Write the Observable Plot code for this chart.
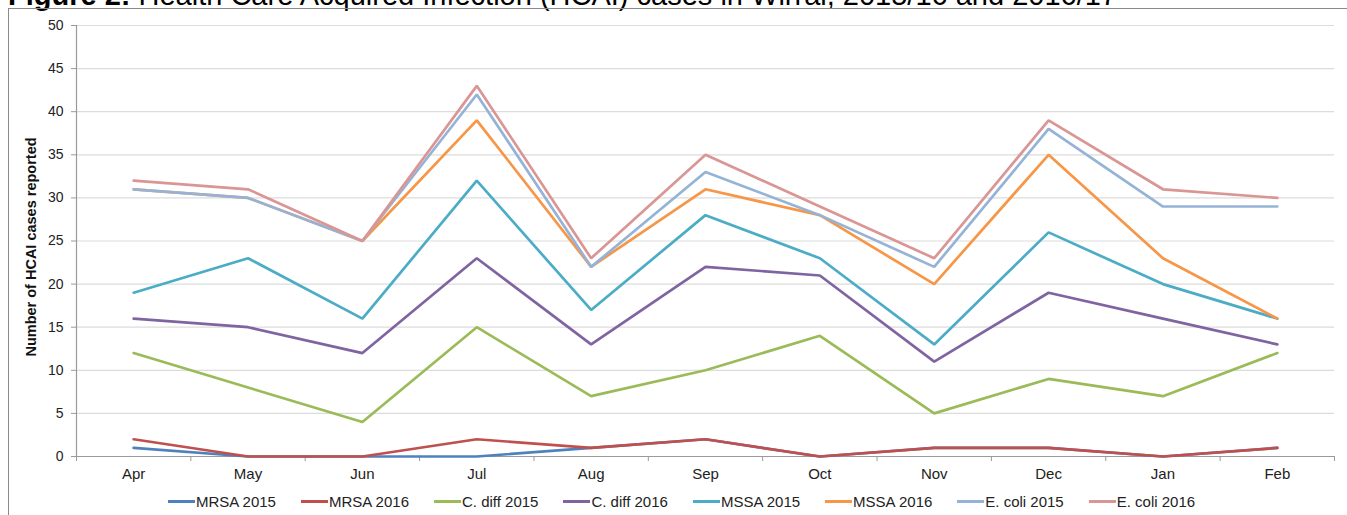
<!DOCTYPE html>
<html>
<head>
<meta charset="utf-8">
<script src="https://cdn.jsdelivr.net/npm/d3@7"></script>
<script src="https://cdn.jsdelivr.net/npm/@observablehq/plot@0.6"></script>
<style>
  html, body { margin: 0; padding: 0; background: #fff; }
  #wrap { position: relative; width: 1347px; height: 515px; overflow: hidden; background: #fff; font-family: "Liberation Sans", Arial, sans-serif; }
  #title { position: absolute; left: 8px; top: -19px; font-size: 29px; line-height: 29px; white-space: nowrap; color: #000; }
  #title b { font-weight: bold; }
  #frame { position: absolute; left: 8px; top: 8px; right: -2px; bottom: -2px; border-left: 1.5px solid #8a8a8a; border-top: 1.5px solid #8a8a8a; }
  #chart { position: absolute; left: 0; top: 0; }
  #ylabel { position: absolute; left: 31px; top: 247px; transform: translate(-50%, -50%) rotate(-90deg); font-size: 14.5px; font-weight: bold; color: #111; white-space: nowrap; }
  #legend { position: absolute; left: 0; top: 493px; width: 1347px; display: flex; justify-content: center; gap: 25px; font-size: 15px; color: #222; padding-left: 16px; box-sizing: border-box; }
  .item { display: flex; align-items: center; white-space: nowrap; }
  .sw { display: inline-block; width: 27px; height: 3px; margin-right: 1px; }
</style>
</head>
<body>
<div id="wrap">
  <div id="title"><b>Figure 2:</b> Health Care Acquired Infection (HCAI) cases in Wirral, 2015/16 and 2016/17</div>
  <div id="frame"></div>
  <div id="chart"></div>
  <div id="ylabel"></div>
  <div id="legend"></div>
</div>
<script>
const months = ["Apr", "May", "Jun", "Jul", "Aug", "Sep", "Oct", "Nov", "Dec", "Jan", "Feb"];
const seriesNames = ["MRSA 2015", "MRSA 2016", "C. diff 2015", "C. diff 2016", "MSSA 2015", "MSSA 2016", "E. coli 2015", "E. coli 2016"];
const seriesColors = ["#4F81BD", "#C0504D", "#9BBB59", "#8064A2", "#4BACC6", "#F79646", "#95B3D7", "#D99694"];
const mrsa2015  = [1, 0, 0, 0, 1, 2, 0, 1, 1, 0, 1];
const mrsa2016  = [2, 0, 0, 2, 1, 2, 0, 1, 1, 0, 1];
const cdiff2015 = [12, 8, 4, 15, 7, 10, 14, 5, 9, 7, 12];
const cdiff2016 = [16, 15, 12, 23, 13, 22, 21, 11, 19, 16, 13];
const mssa2015  = [19, 23, 16, 32, 17, 28, 23, 13, 26, 20, 16];
const mssa2016  = [31, 30, 25, 39, 22, 31, 28, 20, 35, 23, 16];
const ecoli2015 = [31, 30, 25, 42, 22, 33, 28, 22, 38, 29, 29];
const ecoli2016 = [32, 31, 25, 43, 23, 35, 29, 23, 39, 31, 30];
const yTicks = [0, 5, 10, 15, 20, 25, 30, 35, 40, 45, 50];
const yLabel = "Number of HCAI cases reported";

const seriesValues = [mrsa2015, mrsa2016, cdiff2015, cdiff2016, mssa2015, mssa2016, ecoli2015, ecoli2016];
const rows = seriesValues.flatMap((vals, s) => vals.map((v, i) => ({series: seriesNames[s], i, month: months[i], value: v})));
const idx = months.map((m, i) => i);
const bounds = months.map((m, i) => i - 0.5).concat([months.length - 0.5]);

const plot = Plot.plot({
  width: 1347,
  height: 490,
  marginLeft: 76,
  marginRight: 13,
  marginTop: 25,
  marginBottom: 34,
  style: {fontFamily: "'Liberation Sans', Arial, sans-serif", fontSize: "13px", color: "#222", background: "transparent", overflow: "visible"},
  x: {type: "linear", domain: [-0.5, months.length - 0.5], axis: null},
  y: {domain: [0, 50], axis: null},
  color: {domain: seriesNames, range: seriesColors},
  marks: [
    Plot.gridY(yTicks.slice(1), {stroke: "#dcdcdc", strokeOpacity: 1, strokeWidth: 1.2}),
    Plot.axisY(yTicks, {tickSize: 5, tickPadding: 8, stroke: "#9a9a9a", label: null, fontSize: 14}),
    Plot.ruleX([-0.5], {stroke: "#9a9a9a", strokeWidth: 1.2}),
    Plot.ruleY([0], {stroke: "#9a9a9a", strokeWidth: 1.2}),
    Plot.axisX(bounds, {tickSize: 5, tickFormat: () => "", stroke: "#9a9a9a", label: null}),
    Plot.axisX(idx, {tickSize: 0, tickPadding: 12, tickFormat: i => months[i], label: null, fontSize: 15}),
    Plot.line(rows, {x: "i", y: "value", z: "series", stroke: "series", strokeWidth: 2.7, strokeLinejoin: "miter"})
  ]
});
document.getElementById("chart").appendChild(plot);
document.getElementById("ylabel").textContent = yLabel;

const legend = document.getElementById("legend");
seriesNames.forEach((name, k) => {
  const item = document.createElement("div");
  item.className = "item";
  const sw = document.createElement("span");
  sw.className = "sw";
  sw.style.background = seriesColors[k];
  item.appendChild(sw);
  item.appendChild(document.createTextNode(name));
  legend.appendChild(item);
});
</script>
</body>
</html>
